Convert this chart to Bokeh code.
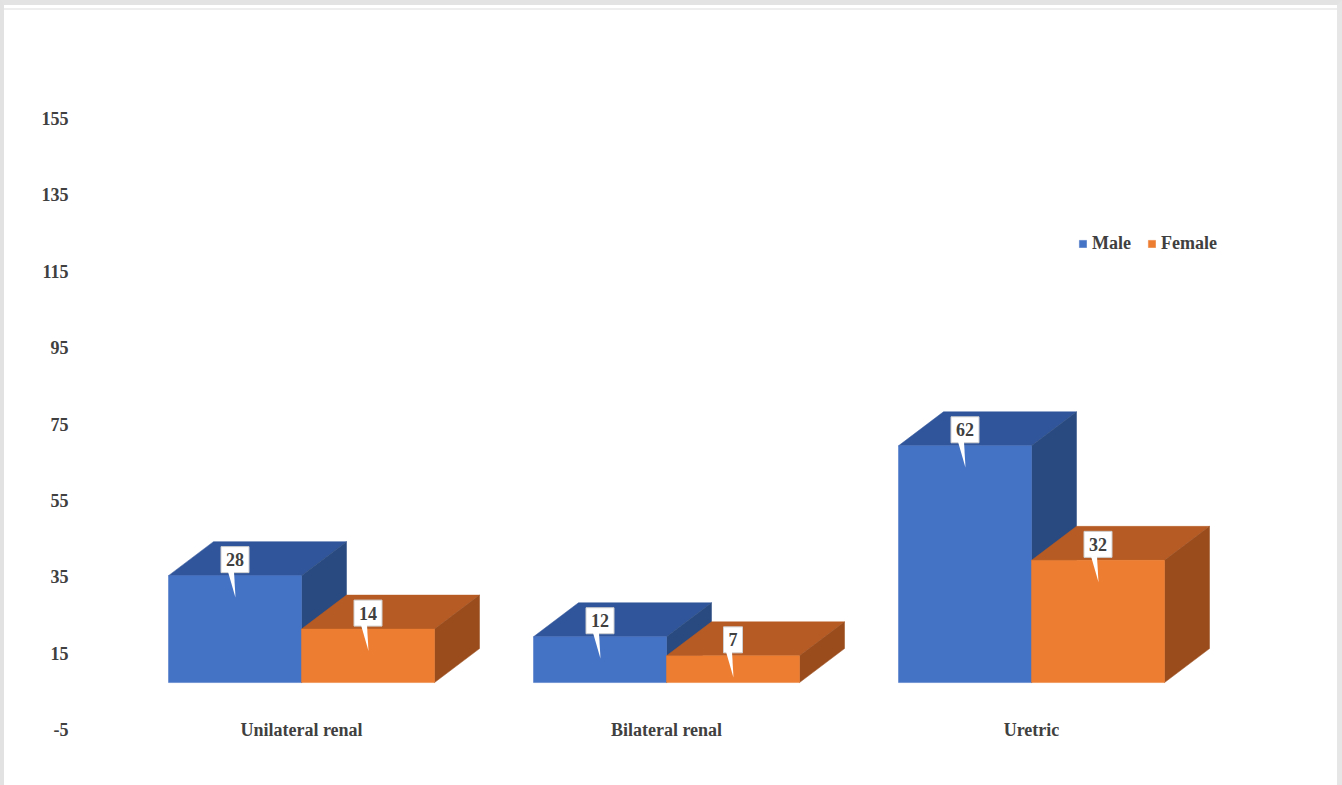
from bokeh.plotting import figure
from bokeh.models import Range1d, FixedTicker, Legend, LegendItem, ColumnDataSource, InlineStyleSheet
from bokeh.core.properties import value
from bokeh.embed import file_html
from bokeh.resources import INLINE

# ---- data -------------------------------------------------------------
categories = ["Unilateral renal", "Bilateral renal", "Uretric"]
male = [28, 12, 62]
female = [14, 7, 32]
series_names = ["Male", "Female"]
y_ticks = [-5, 15, 35, 55, 75, 95, 115, 135, 155]

# ---- styling / layout -------------------------------------------------
FONT = "Liberation Serif"
TEXT = "#404040"
W, H = 1342, 785
LEFT, RIGHT, TOP, BOTTOM = 75, 12, 20, 10
frame_w = W - LEFT - RIGHT
frame_h = H - TOP - BOTTOM
PX_X = 365.0     # pixels per category step
PX_Y = 3.819     # pixels per value unit

x_start = -(301 - LEFT) / PX_X
y_end = 155 + (118 - TOP) / PX_Y
x_range = Range1d(x_start, x_start + frame_w / PX_X)
y_range = Range1d(y_end - frame_h / PX_Y, y_end)

FLOOR = 7.3               # front edge of the 3D floor, in value units
BAR_W = 133 / PX_X        # width of one bar
DX = 45 / PX_X            # depth offset, horizontal
DY = 34 / PX_Y            # depth offset, vertical

COLORS = {
    "Male": ("#4472C4", "#30559A", "#294A80"),     # front, top, side
    "Female": ("#ED7D31", "#B65B23", "#9A4C1D"),
}

p = figure(width=W, height=H, x_range=x_range, y_range=y_range,
           output_backend="svg", toolbar_location=None,
           min_border_left=LEFT, min_border_right=RIGHT,
           min_border_top=TOP, min_border_bottom=BOTTOM)
p.outline_line_color = None
p.background_fill_color = "white"
p.border_fill_color = "white"
p.xgrid.visible = False
p.ygrid.visible = False
p.xaxis.visible = False

# thin grey page frame painted over the canvas edges
p.stylesheets = [InlineStyleSheet(css="""
:host { position: relative; }
:host::after {
  content: ""; position: absolute; left: 0; top: 0; right: 0; bottom: 0;
  box-sizing: border-box; pointer-events: none; z-index: 10;
  border-top: 5px solid #e3e3e3; border-left: 4px solid #e2e2e2;
  border-right: 5px solid #e6e6e6;
}
:host::before {
  content: ""; position: absolute; left: 4px; right: 5px; top: 8px; height: 2px;
  background: #eeeeee; pointer-events: none; z-index: 10;
}
""")]

ya = p.yaxis[0]
ya.ticker = FixedTicker(ticks=y_ticks)
ya.major_label_overrides = {t: str(t) for t in y_ticks}
ya.axis_line_color = None
ya.major_tick_line_color = None
ya.minor_tick_line_color = None
ya.major_tick_in = 0
ya.major_tick_out = 0
ya.major_label_standoff = 7
ya.major_label_text_font = FONT
ya.major_label_text_font_style = "bold"
ya.major_label_text_font_size = "18px"
ya.major_label_text_color = TEXT

centers = list(range(len(categories)))
legend_renderers = {}

for name, vals, offset in [("Male", male, -1), ("Female", female, 0)]:
    front_c, top_c, side_c = COLORS[name]
    lefts = [c + offset * BAR_W for c in centers]
    rights = [l + BAR_W for l in lefts]
    tops = [FLOOR + v for v in vals]

    xs, ys, fills = [], [], []
    for l, r, t in zip(lefts, rights, tops):
        xs.append([l, r, r + DX, l + DX]); ys.append([t, t, t + DY, t + DY]); fills.append(top_c)
        xs.append([r, r + DX, r + DX, r]); ys.append([FLOOR, FLOOR + DY, t + DY, t]); fills.append(side_c)
    p.patches(xs="xs", ys="ys", fill_color="fill", line_color="fill", line_width=0.5,
              source=ColumnDataSource(dict(xs=xs, ys=ys, fill=fills)))

    front = p.quad(left=lefts, right=rights, bottom=[FLOOR] * len(vals), top=tops,
                   fill_color=front_c, line_color=front_c, line_width=0.5)
    legend_renderers[name] = front

    # value callouts
    mids = [(l + r) / 2 for l, r in zip(lefts, rights)]
    box_bottom = [t + 3 / PX_Y for t in tops]
    box_mid = [b + 13 / PX_Y for b in box_bottom]
    widths = [10 + 9 * len(str(v)) for v in vals]
    p.rect(x=mids, y=box_mid, width=widths, height=26, width_units="screen",
           height_units="screen", fill_color="white", line_color="#cfcfcf", line_width=1)
    tail_xs = [[m - 7 / PX_X, m - 1 / PX_X, m + 0.5 / PX_X] for m in mids]
    tail_ys = [[b + 1 / PX_Y, b + 1 / PX_Y, t - 22 / PX_Y] for b, t in zip(box_bottom, tops)]
    p.patches(xs=tail_xs, ys=tail_ys, fill_color="white", line_color=None)
    p.text(x=mids, y=box_mid, text=[str(v) for v in vals], text_align="center",
           text_baseline="middle", text_font=value(FONT), text_font_style="bold",
           text_font_size="18px", text_color=TEXT)

# category names on the floor line
p.text(x=centers, y=[y_ticks[0]] * len(categories), text=categories, text_align="center",
       text_baseline="middle", text_font=value(FONT), text_font_style="bold",
       text_font_size="18px", text_color=TEXT)

legend = Legend(items=[LegendItem(label=n, renderers=[legend_renderers[n]]) for n in series_names],
                orientation="horizontal", location=(1003, 521),
                glyph_width=9, glyph_height=9, label_standoff=5, spacing=16,
                padding=0, margin=0, border_line_color=None, background_fill_alpha=0,
                label_text_font=FONT, label_text_font_style="bold",
                label_text_font_size="18px", label_text_color=TEXT)
p.add_layout(legend)

open("out.html", "w").write(file_html(p, INLINE))
